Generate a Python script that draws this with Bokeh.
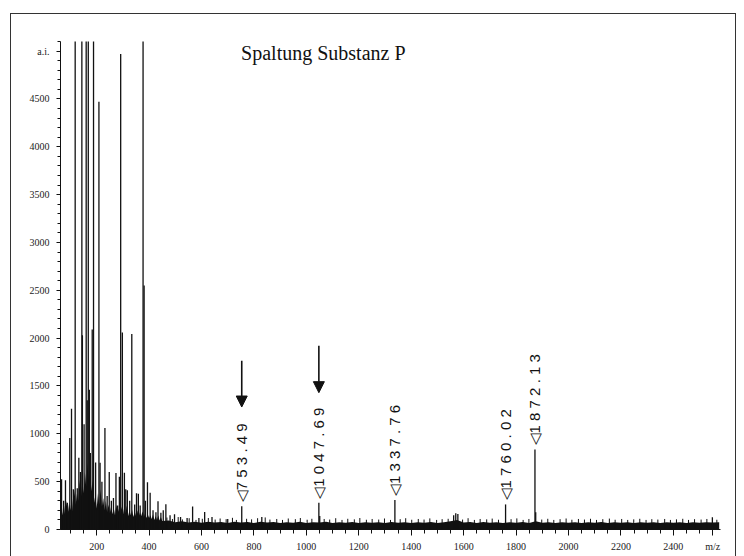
import math
from bokeh.plotting import figure
from bokeh.models import Range1d, FixedTicker, Label, Arrow, NormalHead
from bokeh.core.properties import value
from bokeh.embed import file_html
from bokeh.resources import INLINE

# ---------------- data ----------------
title_text = "Spaltung Substanz P"

# y axis ticks (a.i.)
y_major = [0, 500, 1000, 1500, 2000, 2500, 3000, 3500, 4000, 4500, 5000]
y_major_labels = {5000: "a.i."}
# x axis ticks (m/z)
x_major = [200, 400, 600, 800, 1000, 1200, 1400, 1600, 1800, 2000, 2200, 2400, 2550]
x_major_labels = {2550: "m/z"}

# baseline noise (top of the dense noise band)
noise_low_mz = list(range(60, 451, 5))
noise_low_int = [180, 320, 150, 260, 140, 300, 170, 280, 200, 350,
                 180, 420, 260, 380, 300, 520, 340, 480, 380, 600,
                 450, 700, 520, 640, 400, 520, 280, 360, 220, 380,
                 260, 420, 240, 330, 200, 300, 180, 260, 170, 240,
                 160, 230, 150, 260, 170, 220, 160, 240, 150, 230,
                 170, 250, 140, 200, 150, 210, 130, 190, 140, 200,
                 130, 180, 140, 190, 130, 170, 120, 160, 120, 150,
                 110, 160, 100, 140, 100, 150, 95, 130, 90]
noise_high_mz = list(range(475, 2576, 25))
noise_high_int = [95, 75, 85, 72, 82, 70, 80, 72, 78, 68,
                  80, 72, 78, 68, 82, 72, 78, 68, 76, 70,
                  80, 68, 76, 72, 80, 68, 75, 70, 78, 68,
                  76, 70, 75, 68, 78, 70, 76, 68, 75, 70,
                  78, 68, 75, 85, 100, 72, 78, 68, 78, 70,
                  75, 68, 76, 70, 78, 68, 85, 70, 76, 68,
                  75, 70, 76, 68, 75, 70, 78, 68, 75, 70,
                  76, 68, 75, 70, 76, 68, 75, 70, 76, 68,
                  75, 70, 76, 72, 75]
# small noise spikes above the band
spike_mz = [468, 489, 511, 527, 553, 579, 603, 626, 652, 671,
            694, 718, 733, 772, 791, 814, 843, 861, 887, 909,
            931, 958, 977, 1003, 1021, 1068, 1089, 1112, 1136, 1158,
            1183, 1204, 1229, 1251, 1276, 1298, 1321, 1358, 1379, 1402,
            1427, 1449, 1471, 1497, 1518, 1541, 1596, 1617, 1641, 1663,
            1688, 1709, 1733, 1781, 1803, 1827, 1849, 1898, 1921, 1944,
            1968, 1991, 2013, 2038, 2061, 2084, 2107, 2131, 2156, 2178,
            2203, 2226, 2249, 2272, 2296, 2318, 2341, 2367, 2389, 2412,
            2436, 2458, 2481, 2506, 2528, 2566]
spike_int = [125, 110, 130, 105, 118, 100, 112, 120, 104, 115,
             108, 122, 100, 112, 106, 118, 126, 104, 110, 100,
             115, 108, 120, 102, 112, 110, 104, 118, 100, 112,
             106, 120, 102, 110, 104, 115, 100, 108, 118, 102,
             110, 104, 116, 100, 108, 112, 104, 118, 100, 110,
             106, 114, 102, 108, 116, 100, 110, 104, 112, 100,
             108, 115, 102, 110, 104, 112, 100, 108, 114, 102,
             110, 100, 106, 112, 100, 108, 104, 110, 100, 106,
             112, 100, 108, 104, 110, 102]

# individual peaks (m/z, intensity); clipped peaks exceed the axis top
peak_mz = [66, 74, 81, 88, 97.5, 104, 111, 118, 126, 132,
           138, 143.5, 145.5, 152, 160, 164, 168, 172, 176, 183,
           188, 196, 208.6, 213, 220, 231.5, 240, 248, 256, 264,
           273.6, 280, 286.6, 291.6, 298, 305.8, 311, 317, 326, 334,
           345, 352, 359, 366, 377, 381, 386, 393.8, 404, 415,
           426, 434, 445, 454, 464, 480, 497, 520, 545, 566,
           590, 612, 640, 700, 753.49, 830, 1047.69, 1051, 1337.76, 1562,
           1570, 1578, 1760.02, 1872.13, 1875, 2549]
peak_int = [526, 300, 516, 280, 955, 1262, 420, 8200, 430, 750,
            600, 9100, 2030, 1100, 12500, 1350, 10800, 1460, 800, 2090,
            7600, 700, 4470, 697, 500, 1060, 350, 600, 300, 330,
            590, 250, 550, 4970, 2060, 593, 420, 411, 300, 2044,
            260, 380, 373, 250, 9800, 2550, 300, 495, 383, 200,
            180, 296, 174, 200, 265, 150, 160, 130, 120, 240,
            120, 184, 130, 110, 244, 130, 279, 140, 307, 150,
            170, 163, 262, 837, 180, 129]

# annotated peaks
label_mz = [753.49, 1047.69, 1337.76, 1760.02, 1872.13]
label_int = [244, 279, 307, 262, 837]
label_names = ["753.49", "1047.69", "1337.76", "1760.02", "1872.13"]

# arrows marking cleavage products
arrow_mz = [753.49, 1047.69]
arrow_from = [1763, 1921]
arrow_to = [1280, 1430]

# ---------------- figure ----------------
INK = "#111111"
p = figure(width=726, height=543, output_backend="svg", toolbar_location=None,
           x_range=Range1d(62, 2580), y_range=Range1d(0, 5100),
           min_border_left=49, min_border_right=17, min_border_top=27, min_border_bottom=28)
p.margin = (13, 0, 0, 10)
p.styles = {"border-top": "1px solid #333333", "border-left": "1px solid #333333",
            "border-right": "1px solid #333333", "box-sizing": "border-box"}
p.outline_line_color = None
p.xgrid.visible = False
p.ygrid.visible = False
p.background_fill_color = "white"
p.border_fill_color = "white"

for ax in (p.xaxis[0], p.yaxis[0]):
    ax.axis_line_color = INK
    ax.major_tick_line_color = INK
    ax.minor_tick_line_color = INK
    ax.major_tick_in = 0
    ax.minor_tick_in = 0
    ax.major_label_text_font = "Liberation Serif"
    ax.major_label_text_font_size = "10px"
    ax.major_label_text_color = "#222222"

p.yaxis.ticker = FixedTicker(ticks=y_major, minor_ticks=list(range(0, 5101, 100)))
p.yaxis.major_label_overrides = y_major_labels
p.yaxis.major_tick_out = 4
p.yaxis.minor_tick_out = 3
p.yaxis.major_label_standoff = 7

p.xaxis.ticker = FixedTicker(ticks=x_major, minor_ticks=list(range(100, 2551, 50)))
p.xaxis.major_label_overrides = x_major_labels
p.xaxis.major_tick_out = 6
p.xaxis.minor_tick_out = 4
p.xaxis.major_label_standoff = 5

# noise band
p.varea(x=noise_low_mz + noise_high_mz, y1=0, y2=noise_low_int + noise_high_int,
        fill_color=INK)
p.segment(x0=spike_mz, y0=[0] * len(spike_mz), x1=spike_mz, y1=spike_int,
          line_color=INK, line_width=1)
# peaks
p.segment(x0=peak_mz, y0=[0] * len(peak_mz), x1=peak_mz, y1=peak_int,
          line_color=INK, line_width=1.3)

# rotated peak labels
texts = ["\u25C1" + " ".join(s) for s in label_names]
p.text(x=label_mz, y=label_int, text=texts, angle=math.pi / 2,
       text_align="left", text_baseline="middle", y_offset=-4,
       text_font=value("Liberation Sans"), text_font_size="15px", text_color=INK)

for xm, y0, y1 in zip(arrow_mz, arrow_from, arrow_to):
    p.add_layout(Arrow(x_start=xm, y_start=y0, x_end=xm, y_end=y1,
                       line_color=INK, line_width=1.6,
                       end=NormalHead(size=11, fill_color=INK, line_color=INK)))

p.add_layout(Label(x=751, y=4984, text=title_text, text_font="Liberation Serif",
                   text_font_size="20px", text_color=INK, text_align="left",
                   text_baseline="alphabetic"))

open("out.html", "w").write(file_html(p, INLINE))
